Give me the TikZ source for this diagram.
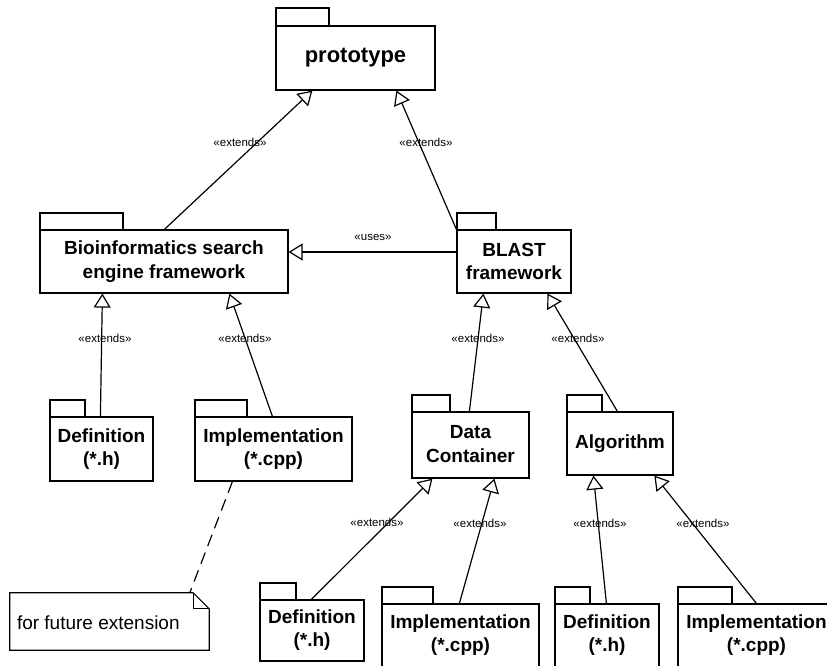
\documentclass[tikz,border=0pt]{standalone}
\usepackage{fontspec}
\setmainfont{Liberation Sans}
\usetikzlibrary{arrows.meta,calc}

\tikzset{
  pkgline/.style={draw, line width=1.2pt},
  pkgbody/.style={pkgline, rectangle, inner sep=0pt, fill=white},
  pkgtext/.style={font=\bfseries\fontsize{19}{23.5}\selectfont, align=center, inner sep=0pt},
  ext/.style={line width=1.2pt, line join=miter, -{Triangle[open, length=14pt, width=17pt]}},
  stereo/.style={font=\fontsize{11.5}{13}\selectfont, inner sep=0pt},
  notelink/.style={line width=1.2pt, dash pattern=on 12pt off 7pt},
  noteshape/.style={draw=none, rectangle, inner sep=0pt},
  notetext/.style={font=\fontsize{19}{23}\selectfont, inner sep=0pt, anchor=west}
}

% #1 name, #2 left, #3 tab top, #4 body top, #5 right, #6 bottom,
% #7 tab right, #8 text centre y, #9 text
\newcommand{\pkgbox}[9]{%
  \draw[pkgline] (#2,#3) rectangle (#7,#4);
  \node[pkgbody, minimum width={(#5-#2)*1pt}, minimum height={(#6-#4)*1pt}]
    (#1) at ({(#2+#5)/2},{(#4+#6)/2}) {};
  \node[pkgtext] (#1-text) at ({(#2+#5)/2},#8) {#9};
}

\begin{document}
\begin{tikzpicture}[x=1pt, y=-1pt]
  \useasboundingbox (0,0) rectangle (827,666);
  \clip (0,0) rectangle (827,666);
  \fill[white] (0,0) rectangle (827,666);

  % packages
  \pkgbox{proto}{276}{8}{26}{435}{90}{329}{58}{\fontsize{22}{26}\selectfont prototype}
  \pkgbox{bio}{40}{213}{230}{288}{293}{123}{261.5}{Bioinformatics search\\engine framework}
  \pkgbox{blast}{457}{213}{230}{571}{293}{496}{261.5}{BLAST\\framework}
  \pkgbox{def}{50}{400}{417}{153}{481}{85}{449}{Definition\\(*.h)}
  \pkgbox{impl}{195}{400}{417}{352}{481}{247}{449}{Implementation\\(*.cpp)}
  \pkgbox{dc}{412}{395}{412}{529}{478}{450}{444}{Data\\Container}
  \pkgbox{algo}{567}{395}{412}{673}{475}{602}{443.5}{Algorithm}
  \pkgbox{defa}{260}{583}{600}{364}{661}{296}{630}{Definition\\(*.h)}
  \pkgbox{impla}{382}{587}{604}{539}{690}{433}{635}{Implementation\\(*.cpp)}
  \pkgbox{defb}{555}{587}{604}{659}{690}{590}{635}{Definition\\(*.h)}
  \pkgbox{implb}{678}{587}{604}{835}{690}{732}{635}{Implementation\\(*.cpp)}

  % note with folded corner
  \node[noteshape, minimum width=199pt, minimum height=57pt] (note) at (109.5,621.5) {};
  \draw[pkgline, line join=miter]
    (note.north west) -- ([xshift=-16pt]note.north east)
    -- ([yshift=-16pt]note.north east) -- (note.south east)
    -- (note.south west) -- cycle;
  \draw[pkgline, line join=miter]
    ([xshift=-16pt]note.north east) |- ([yshift=-16pt]note.north east);
  \node[notetext] (note-text) at ([xshift=7pt, yshift=-1.5pt]note.west) {for future extension};

  % generalisations
  \draw[ext] ([xshift=125pt]bio.north west) -- ([xshift=37pt]proto.south west);
  \draw[ext] (blast.north west) -- ([xshift=121pt]proto.south west);
  \draw[ext] ([yshift=9.5pt]blast.west) coordinate (usesstart) -- (bio.east |- usesstart);
  \draw[ext] ([xshift=51pt]def.north west) -- ([xshift=63pt]bio.south west);
  \draw[ext] ([xshift=78pt]impl.north west) -- ([xshift=190pt]bio.south west);
  \draw[ext] ([xshift=58pt]dc.north west) -- ([xshift=27pt]blast.south west);
  \draw[ext] ([xshift=51pt]algo.north west) -- ([xshift=91pt]blast.south west);
  \draw[ext] ([xshift=52pt]defa.north west) -- ([xshift=21pt]dc.south west);
  \draw[ext] ([xshift=78pt]impla.north west) -- ([xshift=83pt]dc.south west);
  \draw[ext] ([xshift=52pt]defb.north west) -- ([xshift=27pt]algo.south west);
  \draw[ext] ([xshift=79pt]implb.north west) -- ([xshift=88pt]algo.south west);

  % note attachment
  \draw[notelink] ([xshift=38pt]impl.south west) -- ([xshift=180pt]note.north west);

  % stereotypes
  \node[stereo] (s1) at (240,142) {«extends»};
  \node[stereo] (s2) at (426,142) {«extends»};
  \node[stereo] (s3) at (373,237) {«uses»};
  \node[stereo] (s4) at (105,338) {«extends»};
  \node[stereo] (s5) at (245,338) {«extends»};
  \node[stereo] (s6) at (478,338) {«extends»};
  \node[stereo] (s7) at (578,338) {«extends»};
  \node[stereo] (s8) at (377,522) {«extends»};
  \node[stereo] (s9) at (480,523) {«extends»};
  \node[stereo] (s10) at (600,523) {«extends»};
  \node[stereo] (s11) at (703,523) {«extends»};
\end{tikzpicture}
\end{document}
